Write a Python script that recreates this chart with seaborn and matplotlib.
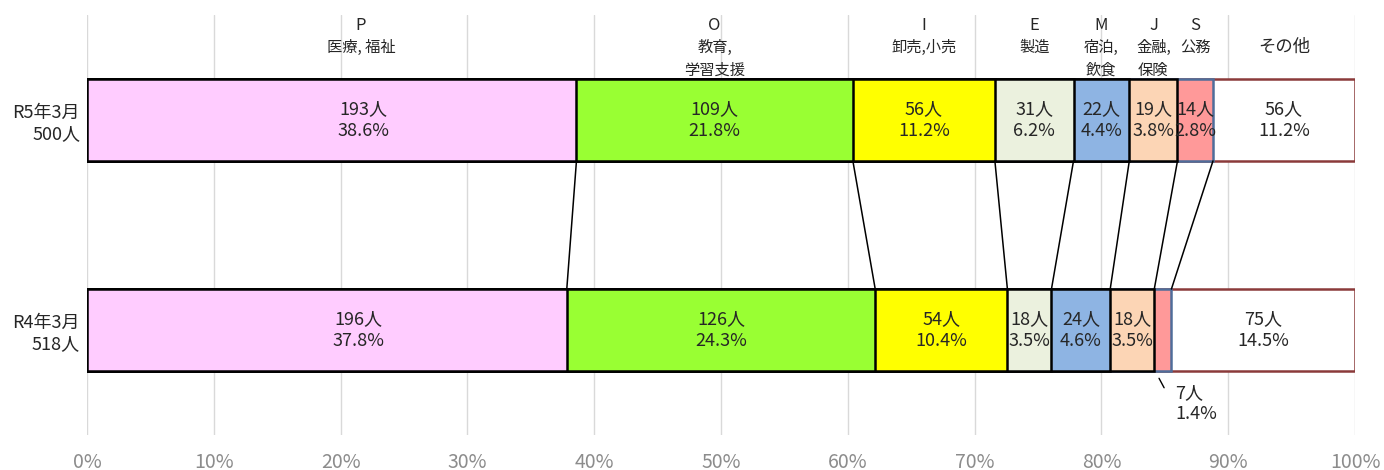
import numpy as np
import pandas as pd
import matplotlib.pyplot as plt
import seaborn as sns

# Data
periods = ['R5年3月\n500人', 'R4年3月\n518人']
codes = ['P', 'O', 'I', 'E', 'M', 'J', 'S', '']
names = ['医療, 福祉', '教育,\n学習支援', '卸売,小売', '製造', '宿泊,\n飲食', '金融,\n保険', '公務', 'その他']
r5_counts = [193, 109, 56, 31, 22, 19, 14, 56]
r4_counts = [196, 126, 54, 18, 24, 18, 7, 75]
r5_pct = ['38.6%', '21.8%', '11.2%', '6.2%', '4.4%', '3.8%', '2.8%', '11.2%']
r4_pct = ['37.8%', '24.3%', '10.4%', '3.5%', '4.6%', '3.5%', '1.4%', '14.5%']

colors = ['#FFCCFF', '#99FF33', '#FFFF00', '#EBF1DE', '#8EB4E3', '#FCD5B5', '#FF9999', '#FFFFFF']
edges = ['black'] * 6 + ['#4F6D9A', '#8B3A3A']

sns.set_style('white')
plt.rcParams['font.family'] = ['Noto Sans CJK JP', 'DejaVu Sans']

counts = [r5_counts, r4_counts]
pcts = [r5_pct, r4_pct]
cums = [np.cumsum(c) / np.sum(c) * 100 for c in counts]

fig = plt.figure(figsize=(13.84, 4.70), dpi=100)
ax = fig.add_axes([87 / 1384, 35 / 470, 1268 / 1384, 420 / 470])
ax.set_axisbelow(True)
ax.grid(axis='x', color='#D9D9D9', linewidth=1)

bar_h = 0.39
# stacked bars: draw cumulative totals from the longest down
for i in range(len(codes) - 1, -1, -1):
    df = pd.DataFrame({'period': periods, 'value': [cums[0][i], cums[1][i]]})
    sns.barplot(data=df, x='value', y='period', order=periods, orient='h',
                color=colors[i], edgecolor=edges[i], linewidth=1.8,
                width=bar_h, saturation=1, errorbar=None, ax=ax)

# connector lines between the two bars
for i in range(len(codes) - 1):
    ax.plot([cums[0][i], cums[1][i]], [bar_h / 2, 1 - bar_h / 2],
            color='black', linewidth=1.1, zorder=1)

# labels inside segments (P labels sit a bit right of centre in the original)
for j in range(2):
    for i in range(len(codes)):
        start = cums[j][i - 1] if i > 0 else 0
        mid = (start + cums[j][i]) / 2
        if i == 0:
            mid += 2.5
        txt = f'{counts[j][i]}人\n{pcts[j][i]}'
        if j == 1 and i == 6:
            ax.plot([mid - 0.3, mid + 0.1], [1.23, 1.275], color='black', linewidth=1)
            ax.text(cums[j][i] + 0.3, 1.35, txt, ha='left', va='center',
                    fontsize=13, linespacing=1.25)
            continue
        ax.text(mid, j, txt, ha='center', va='center', fontsize=13, linespacing=1.25)

# category headers above the top bar
for i in range(len(codes)):
    start = cums[0][i - 1] if i > 0 else 0
    mid = (start + cums[0][i]) / 2
    if i == 0:
        mid += 2.3
    if codes[i]:
        ax.text(mid, -0.452, codes[i], ha='center', va='center', fontsize=12)
        ax.text(mid, -0.387, names[i], ha='center', va='top', fontsize=11, linespacing=1.45)
    else:
        ax.text(mid, -0.348, names[i], ha='center', va='center', fontsize=12.5)

ax.set_xlim(0, 100)
ax.set_ylim(1.5, -0.5)
ax.set_xticks(range(0, 101, 10))
ax.set_xticklabels([f'{v}%' for v in range(0, 101, 10)])
ax.tick_params(axis='x', length=0, pad=12, labelsize=14, labelcolor='#8C8C8C')
ax.tick_params(axis='y', length=0, pad=5, labelsize=13)
ax.set_xlabel('')
ax.set_ylabel('')
sns.despine(ax=ax, left=True, bottom=True)

fig.savefig('out.png', dpi=100)
